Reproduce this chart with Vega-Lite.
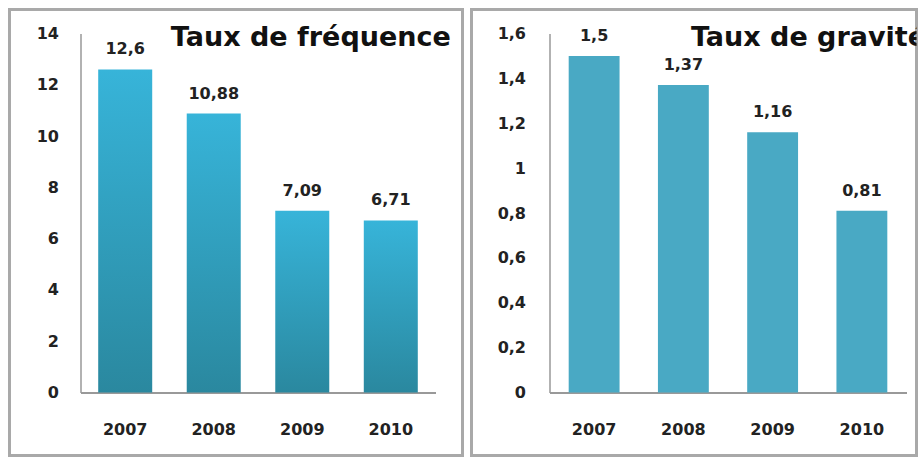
{
  "$schema": "https://vega.github.io/schema/vega-lite/v6.json",
  "padding": {"left": 7.5, "top": 7.5, "right": 0, "bottom": 0},
  "spacing": 5,
  "config": {
    "locale": {"number": {"decimal": ",", "thousands": " ", "grouping": [3], "currency": ["", " €"]}},
    "view": {"stroke": "#a9a9a9", "strokeWidth": 3},
    "font": "DejaVu Sans",
    "axis": {"labelFont": "DejaVu Sans", "labelFontWeight": "bold", "labelFontSize": 16, "labelColor": "#222", "ticks": false, "grid": false, "title": null, "domainColor": "#999", "domainWidth": 1.5}
  },
  "hconcat": [
    {
      "width": 453,
      "height": 446,
      "data": {"values": [
        {"year": "2007", "value": 12.6},
        {"year": "2008", "value": 10.88},
        {"year": "2009", "value": 7.09},
        {"year": "2010", "value": 6.71}
      ]},
      "encoding": {
        "x": {"field": "year", "type": "nominal", "sort": null,
          "scale": {"range": [71, 426], "paddingInner": 0.39, "paddingOuter": 0.2},
          "axis": {"orient": "bottom", "offset": -63, "labelAngle": 0, "labelPadding": 29, "domainWidth": 2}},
        "y": {"field": "value", "type": "quantitative",
          "scale": {"domain": [0, 14], "nice": false, "range": [383, 24]},
          "axis": {"orient": "left", "offset": -71, "values": [0, 2, 4, 6, 8, 10, 12, 14], "format": "~g", "labelPadding": 22, "labelBaseline": "middle"}}
      },
      "layer": [
        {"mark": {"type": "bar", "color": {"gradient": "linear", "x1": 0, "y1": 0, "x2": 0, "y2": 1, "stops": [{"offset": 0, "color": "#37b4d9"}, {"offset": 1, "color": "#2a889f"}]}}},
        {"mark": {"type": "text", "baseline": "alphabetic", "dy": -15, "font": "DejaVu Sans", "fontWeight": "bold", "fontSize": 16, "color": "#222"},
          "encoding": {"text": {"field": "value", "type": "quantitative", "format": "~g"}}},
        {"data": {"values": [{"title": "Taux de fréquence", "year": "2010", "value": 14}]},
          "mark": {"type": "text", "align": "right", "baseline": "alphabetic", "dx": 60, "dy": 12, "font": "DejaVu Sans", "fontWeight": "bold", "fontSize": 27, "color": "#111"},
          "encoding": {"text": {"field": "title"}}}
      ]
    },
    {
      "width": 445,
      "height": 446,
      "data": {"values": [
        {"year": "2007", "value": 1.5},
        {"year": "2008", "value": 1.37},
        {"year": "2009", "value": 1.16},
        {"year": "2010", "value": 0.81}
      ]},
      "encoding": {
        "x": {"field": "year", "type": "nominal", "sort": null,
          "scale": {"range": [78, 435], "paddingInner": 0.43, "paddingOuter": 0.215},
          "axis": {"orient": "bottom", "offset": -63, "labelAngle": 0, "labelPadding": 29, "domainWidth": 2}},
        "y": {"field": "value", "type": "quantitative",
          "scale": {"domain": [0, 1.6], "nice": false, "range": [383, 24]},
          "axis": {"orient": "left", "offset": -78, "values": [0, 0.2, 0.4, 0.6, 0.8, 1, 1.2, 1.4, 1.6], "format": "~g", "labelPadding": 24, "labelBaseline": "middle"}}
      },
      "layer": [
        {"mark": {"type": "bar", "color": "#49a9c4"}},
        {"mark": {"type": "text", "baseline": "alphabetic", "dy": -15, "font": "DejaVu Sans", "fontWeight": "bold", "fontSize": 16, "color": "#222"},
          "encoding": {"text": {"field": "value", "type": "quantitative", "format": "~g"}}},
        {"data": {"values": [{"title": "Taux de gravité", "year": "2010", "value": 1.6}]},
          "mark": {"type": "text", "align": "left", "baseline": "alphabetic", "dx": -171, "dy": 12, "font": "DejaVu Sans", "fontWeight": "bold", "fontSize": 27, "color": "#111", "clip": true},
          "encoding": {"text": {"field": "title"}}}
      ]
    }
  ]
}
